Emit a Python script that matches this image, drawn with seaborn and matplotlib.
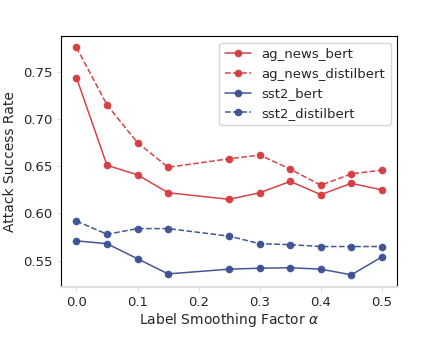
import matplotlib
matplotlib.use("Agg")
import matplotlib.pyplot as plt
import seaborn as sns
import pandas as pd

# label smoothing factors (0.2 is missing in the original run)
alpha = [0.0, 0.05, 0.1, 0.15, 0.25, 0.3, 0.35, 0.4, 0.45, 0.5]

ag_news_bert = [0.744, 0.651, 0.641, 0.622, 0.615, 0.622, 0.634, 0.620, 0.632, 0.625]
ag_news_distilbert = [0.776, 0.715, 0.675, 0.649, 0.658, 0.662, 0.647, 0.630, 0.642, 0.646]
sst2_bert = [0.571, 0.568, 0.552, 0.536, 0.541, 0.542, 0.5425, 0.541, 0.535, 0.554]
sst2_distilbert = [0.592, 0.578, 0.584, 0.584, 0.576, 0.568, 0.567, 0.565, 0.565, 0.565]

red = "#d43a3f"
blue = "#3a4e91"

series = [
    ("ag_news_bert", ag_news_bert, red, "-"),
    ("ag_news_distilbert", ag_news_distilbert, red, "--"),
    ("sst2_bert", sst2_bert, blue, "-"),
    ("sst2_distilbert", sst2_distilbert, blue, "--"),
]

sns.set_style("white")
plt.rcParams["font.family"] = ["DejaVu Sans"]

fig, ax = plt.subplots(figsize=(4.28, 3.54), dpi=100)

for name, vals, color, ls in series:
    df = pd.DataFrame({"alpha": alpha, "rate": vals})
    sns.lineplot(data=df, x="alpha", y="rate", ax=ax, color=color,
                 linestyle=ls, marker="o", markersize=5.5, linewidth=1.1,
                 markeredgewidth=0, alpha=0.95, label=name)

ax.set_xlabel(r"Label Smoothing Factor $\alpha$", fontsize=10, labelpad=1)
ax.set_ylabel("Attack Success Rate", fontsize=10)
ax.set_xticks([0.0, 0.1, 0.2, 0.3, 0.4, 0.5])
ax.set_yticks([0.55, 0.60, 0.65, 0.70, 0.75])
ax.set_ylim(0.522, 0.788)
ax.tick_params(labelsize=9.5, length=3, color="#dddddd", bottom=True, left=True)

for side in ["left", "top", "right"]:
    ax.spines[side].set_color("black")
ax.spines["bottom"].set_color("#dddddd")
ax.spines["bottom"].set_linewidth(1.5)

ax.legend(loc="upper right", fontsize=9.5, frameon=True, edgecolor="#cccccc")

fig.subplots_adjust(left=0.143, right=0.928, top=0.898, bottom=0.189)
fig.savefig("out.png", dpi=100)
